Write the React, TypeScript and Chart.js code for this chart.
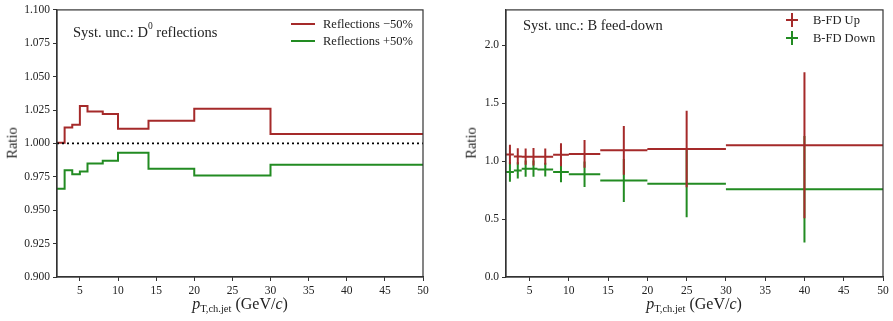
import React, { useEffect, useRef } from "react";
import Chart from "chart.js/auto";

// ---------------- data ----------------
const binEdges = [2, 3, 4, 5, 6, 8, 10, 14, 20, 30, 50];
const reflMinus50 = [1.0005, 1.012, 1.014, 1.028, 1.024, 1.022, 1.011, 1.017, 1.026, 1.007];
const reflPlus50 = [0.966, 0.98, 0.977, 0.979, 0.985, 0.987, 0.993, 0.981, 0.976, 0.984];

const bfdUp = [1.057, 1.04, 1.038, 1.038, 1.038, 1.055, 1.062, 1.093, 1.104, 1.138];
const bfdUpErr = [0.085, 0.07, 0.07, 0.075, 0.07, 0.1, 0.12, 0.21, 0.33, 0.63];
const bfdDown = [0.907, 0.92, 0.935, 0.935, 0.927, 0.907, 0.887, 0.833, 0.805, 0.757];
const bfdDownErr = [0.085, 0.07, 0.07, 0.07, 0.06, 0.09, 0.11, 0.185, 0.29, 0.46];

const xTicks = [5, 10, 15, 20, 25, 30, 35, 40, 45, 50];
const leftYTicks = [0.9, 0.925, 0.95, 0.975, 1.0, 1.025, 1.05, 1.075, 1.1];
const rightYTicks = [0.0, 0.5, 1.0, 1.5, 2.0];

const RED = "#a52a2a";
const GREEN = "#228b22";
const FONT = "'Liberation Serif', 'DejaVu Serif', serif";

// ---------------- helpers ----------------
const stepPoints = (vals: number[]) =>
  binEdges.map((e, i) => ({ x: e, y: vals[Math.min(i, vals.length - 1)] }));

const hSegments = (vals: number[]) => {
  const pts: any[] = [];
  vals.forEach((v, i) => {
    pts.push({ x: binEdges[i], y: v }, { x: binEdges[i + 1], y: v }, { x: binEdges[i + 1], y: null });
  });
  return pts;
};
const vSegments = (vals: number[], errs: number[]) => {
  const pts: any[] = [];
  vals.forEach((v, i) => {
    const c = (binEdges[i] + binEdges[i + 1]) / 2;
    pts.push({ x: c, y: v - errs[i] }, { x: c, y: v + errs[i] }, { x: c, y: null });
  });
  return pts;
};

const framePlugin = {
  id: "frame",
  afterDraw(chart: any) {
    const { ctx, chartArea: a } = chart;
    ctx.save();
    ctx.strokeStyle = "#333";
    ctx.lineWidth = 1.2;
    ctx.strokeRect(a.left, a.top, a.right - a.left, a.bottom - a.top);
    ctx.restore();
  },
};

const axisCommon = (ticks: number[], decimals: number, min: number, max: number, size: number) => ({
  type: "linear" as const,
  min,
  max,
  afterBuildTicks: (s: any) => {
    s.ticks = ticks.map((v) => ({ value: v }));
  },
  ticks: {
    color: "#222",
    font: { family: FONT, size: 11.5 },
    padding: 3,
    maxRotation: 0,
    callback: (v: any) => Number(v).toFixed(decimals),
  },
  grid: { display: true, drawOnChartArea: false, drawTicks: true, tickLength: 4, color: "#333" },
  border: { display: true, color: "#333", width: 1.2 },
  afterFit: (s: any) => {
    if (s.isHorizontal()) s.height = size;
    else s.width = size;
  },
});

function useChart(ref: React.RefObject<HTMLCanvasElement>, cfg: () => any) {
  useEffect(() => {
    if (!ref.current) return;
    const ch = new Chart(ref.current, cfg());
    return () => ch.destroy();
  }, []);
}

function LeftChart() {
  const ref = useRef<HTMLCanvasElement>(null);
  useChart(ref, () => ({
    type: "line",
    data: {
      datasets: [
        {
          data: [{ x: 2, y: 1 }, { x: 50, y: 1 }],
          borderColor: "#000",
          borderWidth: 1.8,
          borderDash: [2, 3],
          pointRadius: 0,
        },
        {
          label: "Reflections −50%",
          data: stepPoints(reflMinus50),
          stepped: "before",
          borderColor: RED,
          borderWidth: 2,
          pointRadius: 0,
        },
        {
          label: "Reflections +50%",
          data: stepPoints(reflPlus50),
          stepped: "before",
          borderColor: GREEN,
          borderWidth: 2,
          pointRadius: 0,
        },
      ],
    },
    options: {
      animation: false,
      responsive: false,
      layout: { padding: { top: 8, right: 17, left: 0, bottom: 0 } },
      plugins: { legend: { display: false }, tooltip: { enabled: false } },
      scales: {
        x: axisCommon(xTicks, 0, 2, 50, 44),
        y: axisCommon(leftYTicks, 3, 0.9, 1.1, 57),
      },
    },
    plugins: [framePlugin],
  }));
  return <canvas ref={ref} width={440} height={321} style={{ position: "absolute", left: 0, top: 0 }} />;
}

function RightChart() {
  const ref = useRef<HTMLCanvasElement>(null);
  const ds = (data: any[], color: string) => ({
    data,
    borderColor: color,
    borderWidth: 2,
    pointRadius: 0,
    spanGaps: false,
  });
  useChart(ref, () => ({
    type: "line",
    data: {
      datasets: [
        ds(hSegments(bfdUp), RED),
        ds(vSegments(bfdUp, bfdUpErr), RED),
        ds(hSegments(bfdDown), GREEN),
        ds(vSegments(bfdDown, bfdDownErr), GREEN),
      ],
    },
    options: {
      animation: false,
      responsive: false,
      layout: { padding: { top: 5, right: 10, left: 0, bottom: 0 } },
      plugins: { legend: { display: false }, tooltip: { enabled: false } },
      scales: {
        x: axisCommon(xTicks, 0, 2, 50, 44),
        y: axisCommon(rightYTicks, 1, 0, 2.305, 66),
      },
    },
    plugins: [framePlugin],
  }));
  return <canvas ref={ref} width={453} height={321} style={{ position: "absolute", left: 440, top: 0 }} />;
}

const txt = (extra: React.CSSProperties): React.CSSProperties => ({
  position: "absolute",
  fontFamily: FONT,
  color: "#222",
  whiteSpace: "nowrap",
  lineHeight: 1,
  ...extra,
});

function XTitle({ cx }: { cx: number }) {
  return (
    <div style={txt({ left: cx, top: 296, fontSize: 16, transform: "translateX(-50%)" })}>
      <i>p</i>
      <span style={{ fontSize: 10.5, position: "relative", top: 3 }}>T,ch.jet</span>
      <span> (GeV/</span>
      <i>c</i>
      <span>)</span>
    </div>
  );
}

function YTitle({ cx }: { cx: number }) {
  return (
    <div style={txt({ left: cx, top: 143, fontSize: 14.5, transform: "translate(-50%,-50%) rotate(-90deg)" })}>
      Ratio
    </div>
  );
}

function LineKey({ x, y, color }: { x: number; y: number; color: string }) {
  return <div style={{ position: "absolute", left: x, top: y - 1, width: 24, height: 2, background: color }} />;
}

function CrossKey({ x, y, color }: { x: number; y: number; color: string }) {
  return (
    <>
      <div style={{ position: "absolute", left: x - 6, top: y - 1, width: 12, height: 2, background: color }} />
      <div style={{ position: "absolute", left: x - 1, top: y - 7, width: 2, height: 14, background: color }} />
    </>
  );
}

export default function App() {
  return (
    <div style={{ position: "absolute", left: 0, top: 0, width: 893, height: 321, background: "#fff", overflow: "hidden" }}>
      <LeftChart />
      <RightChart />
      <XTitle cx={240} />
      <XTitle cx={694} />
      <YTitle cx={12} />
      <YTitle cx={471} />
      <div style={txt({ left: 73, top: 25, fontSize: 14.5 })}>
        Syst. unc.: D<sup style={{ fontSize: 9.5, verticalAlign: "top", position: "relative", top: -3 }}>0</sup> reflections
      </div>
      <LineKey x={291} y={24} color={RED} />
      <LineKey x={291} y={41} color={GREEN} />
      <div style={txt({ left: 323, top: 18, fontSize: 12.5 })}>Reflections −50%</div>
      <div style={txt({ left: 323, top: 35, fontSize: 12.5 })}>Reflections +50%</div>
      <div style={txt({ left: 523, top: 18, fontSize: 14.5 })}>Syst. unc.: B feed-down</div>
      <CrossKey x={792} y={20} color={RED} />
      <CrossKey x={792} y={38} color={GREEN} />
      <div style={txt({ left: 813, top: 14, fontSize: 12.5 })}>B-FD Up</div>
      <div style={txt({ left: 813, top: 32, fontSize: 12.5 })}>B-FD Down</div>
    </div>
  );
}
